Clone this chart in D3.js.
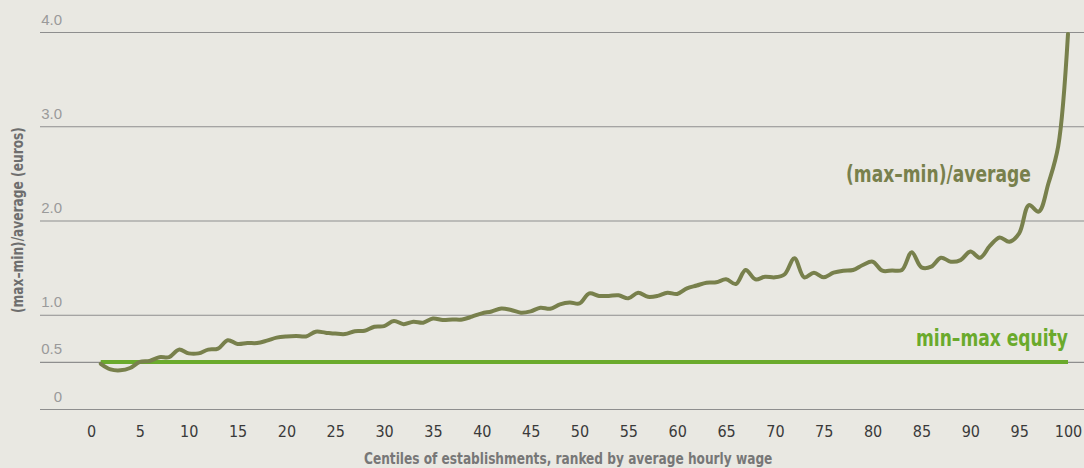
<!DOCTYPE html>
<html>
<head>
<meta charset="utf-8">
<script src="https://cdn.jsdelivr.net/npm/d3@7/dist/d3.min.js"></script>
<style>
  html, body { margin: 0; padding: 0; background: #e9e8e2; }
  svg { display: block; }
  .cond { font-family: 'Liberation Sans Narrow', 'DejaVu Sans Condensed', 'Roboto', sans-serif; }
</style>
</head>
<body>
<svg id="chart" width="1084" height="468"></svg>
<script>
// Centiles of establishments (ranked by average hourly wage)
const centiles = d3.range(1, 101);

// (max - min) / average hourly wage, per centile
const spreadRatio = [
  0.48, 0.42, 0.41, 0.435, 0.50, 0.51, 0.55, 0.55, 0.63, 0.59,
  0.59, 0.63, 0.64, 0.73, 0.69, 0.70, 0.70, 0.725, 0.757, 0.77,
  0.775, 0.77, 0.82, 0.81, 0.80, 0.795, 0.825, 0.83, 0.873, 0.88,
  0.934, 0.90, 0.926, 0.916, 0.96, 0.944, 0.95, 0.95, 0.98, 1.015,
  1.035, 1.066, 1.05, 1.022, 1.036, 1.075, 1.064, 1.11, 1.13, 1.12,
  1.227, 1.20, 1.20, 1.206, 1.174, 1.234, 1.19, 1.20, 1.234, 1.22,
  1.28, 1.31, 1.34, 1.344, 1.376, 1.326, 1.475, 1.376, 1.404, 1.397,
  1.43, 1.60, 1.397, 1.446, 1.397, 1.446, 1.467, 1.475, 1.528, 1.563,
  1.467, 1.47, 1.475, 1.663, 1.503, 1.51, 1.605, 1.563, 1.58, 1.67,
  1.605, 1.73, 1.82, 1.775, 1.864, 2.164, 2.094, 2.395, 2.79, 3.98
];

// Reference level for min–max equity
const equityLevel = 0.5;

const yTicks = [0, 0.5, 1, 2, 3, 4];
const yTickLabels = ["0", "0.5", "1.0", "2.0", "3.0", "4.0"];
const xTicks = d3.range(0, 101, 5);

const seriesLabel = "(max\u2013min)/average";
const equityLabel = "min\u2013max equity";
const yTitle = "(max\u2013min)/average (euros)";
const xTitle = "Centiles of establishments, ranked by average hourly wage";

const svg = d3.select("#chart");

const x = d3.scaleLinear().domain([0, 100]).range([91, 1068]);
const y = d3.scaleLinear().domain([0, 4]).range([409, 32]);

const gridLeft = 40, gridRight = 1084;

// Horizontal gridlines with their labels sitting above each line
const yAxis = d3.axisLeft(y)
  .tickValues(yTicks)
  .tickSize(-(gridRight - gridLeft))
  .tickFormat((d, i) => yTickLabels[i]);

const gy = svg.append("g")
  .attr("transform", `translate(${gridLeft},0)`)
  .call(yAxis);
gy.select(".domain").remove();
gy.selectAll(".tick line")
  .attr("stroke", "#8e8e8e")
  .attr("stroke-width", 1.2);
gy.selectAll(".tick text")
  .attr("x", 22)
  .attr("y", -8)
  .attr("dy", 0)
  .attr("text-anchor", "end")
  .attr("fill", "#9a9a9a")
  .style("font-family", "'Liberation Sans', Arial, sans-serif")
  .style("font-size", "15px");

// Centile axis labels
const xAxis = d3.axisBottom(x)
  .tickValues(xTicks)
  .tickSize(0)
  .tickPadding(17);

const gx = svg.append("g")
  .attr("transform", `translate(0,${y(0)})`)
  .call(xAxis);
gx.select(".domain").remove();
gx.selectAll(".tick text")
  .attr("class", "cond")
  .attr("fill", "#3a3a3a")
  .style("font-size", "16px");

// Equity reference line
svg.append("line")
  .attr("x1", x(centiles[0]))
  .attr("x2", x(centiles[centiles.length - 1]))
  .attr("y1", y(equityLevel))
  .attr("y2", y(equityLevel))
  .attr("stroke", "#6aaa2c")
  .attr("stroke-width", 4);

// Spread ratio curve
const line = d3.line()
  .x((d, i) => x(centiles[i]))
  .y(d => y(d))
  .curve(d3.curveCatmullRom.alpha(0.5));

svg.append("path")
  .datum(spreadRatio)
  .attr("fill", "none")
  .attr("stroke", "#78804c")
  .attr("stroke-width", 4)
  .attr("stroke-linejoin", "round")
  .attr("stroke-linecap", "round")
  .attr("d", line);

// Bold condensed text, narrowed horizontally to a given width
function condensedText(str, width, px, fill, placement) {
  const t = svg.append("text")
    .attr("class", "cond")
    .attr("fill", fill)
    .style("font-size", px + "px")
    .style("font-weight", "bold")
    .text(str);
  const k = width / t.node().getComputedTextLength();
  t.attr("transform", `${placement} scale(${k},1)`);
  return t;
}

// Series labels
condensedText(seriesLabel, 185, 23, "#78804c", "translate(846,182)");
condensedText(equityLabel, 152, 23, "#6aaa2c", "translate(916,346)");

// Axis titles
condensedText(yTitle, 186, 15, "#6e6e6e", "translate(23,313) rotate(-90)");
condensedText(xTitle, 409, 15, "#777777", "translate(364,464)");
</script>
</body>
</html>
